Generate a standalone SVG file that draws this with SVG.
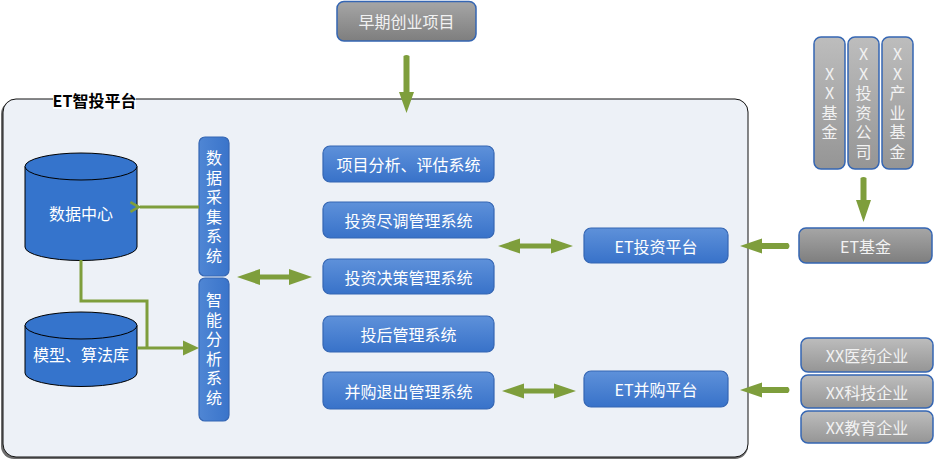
<svg xmlns="http://www.w3.org/2000/svg" width="935" height="459" viewBox="0 0 935 459">
<defs>
<linearGradient id="gBlue" x1="0" y1="0" x2="0" y2="1">
<stop offset="0" stop-color="#5E91DA"/>
<stop offset="1" stop-color="#3872C9"/>
</linearGradient>
<linearGradient id="gBlueV" x1="0" y1="0" x2="1" y2="0">
<stop offset="0" stop-color="#4F86D4"/>
<stop offset="1" stop-color="#3A74CA"/>
</linearGradient>
<linearGradient id="gGray" x1="0" y1="0" x2="0" y2="1">
<stop offset="0" stop-color="#BDBDBD"/>
<stop offset="1" stop-color="#959595"/>
</linearGradient>
<linearGradient id="gGrayDark" x1="0" y1="0" x2="0" y2="1">
<stop offset="0" stop-color="#A6A6A6"/>
<stop offset="1" stop-color="#7E7E7E"/>
</linearGradient>
<marker id="open" viewBox="0 0 10 10" refX="1" refY="5" markerWidth="4" markerHeight="4" orient="auto-start-reverse" markerUnits="strokeWidth">
<path d="M9,1 L2,5 L9,9" fill="none" stroke="#7E9E3C" stroke-width="2.2"/>
</marker>
</defs>
<style>
.box{fill:url(#gBlue);stroke:#3566B3;stroke-width:1.2}
.vbox{fill:url(#gBlueV);stroke:#3566B3;stroke-width:1.2}
.gbox{fill:url(#gGray);stroke:#3566B3;stroke-width:1.5}
.gdark{fill:url(#gGrayDark);stroke:#3566B3;stroke-width:1.5}
.cyl{fill:#3574CC;stroke:#000;stroke-width:1}
.t{font-family:"Noto Sans CJK SC","Microsoft YaHei",sans-serif;font-size:16px;fill:#FFFFFF;text-anchor:middle;dominant-baseline:central}
.tg{font-family:"Noto Sans CJK SC","Microsoft YaHei",sans-serif;font-size:16px;fill:#F2F2F2;text-anchor:middle;dominant-baseline:central}
.v{writing-mode:vertical-rl;text-orientation:upright;letter-spacing:3.5px}
.arr{fill:#7E9E3C}
.ln{fill:none;stroke:#7E9E3C;stroke-width:3}
</style>

<g id="container">
<rect x="1" y="101" width="747" height="358" rx="13" fill="#6E6E6E"/>
<rect x="3" y="99" width="745" height="358" rx="13" fill="#EDF1F7" stroke="#111" stroke-width="1"/>
<rect x="53" y="91" width="83" height="18" fill="#FFFFFF"/>
<text x="94.5" y="100" font-family="'Noto Sans CJK SC','Microsoft YaHei',sans-serif" font-size="16" font-weight="bold" fill="#000" text-anchor="middle" dominant-baseline="central">ET智投平台</text>
</g>

<g id="n-zaoqi">
<rect class="gdark" x="337" y="1.5" width="139" height="39.5" rx="7"/>
<text class="tg" x="406.5" y="21">早期创业项目</text>
</g>

<g id="n-datacenter">
<path class="cyl" d="M25,166.5 V247 A56,13.5 0 0 0 137,247 V166.5"/>
<ellipse class="cyl" cx="81" cy="166.5" rx="56" ry="13.5"/>
<text class="t" x="81" y="213">数据中心</text>
</g>

<g id="n-model">
<path class="cyl" d="M25,325.5 V373 A56,13.5 0 0 0 137,373 V325.5"/>
<ellipse class="cyl" cx="81" cy="325.5" rx="56" ry="13.5"/>
<text class="t" x="81" y="354">模型、算法库</text>
</g>

<g id="n-caiji">
<rect class="vbox" x="199" y="137" width="30" height="139" rx="6"/>
<text class="t v" x="214" y="208.5">数据采集系统</text>
</g>

<g id="n-fenxi">
<rect class="vbox" x="199" y="278" width="30" height="143" rx="6"/>
<text class="t v" x="214" y="350.5">智能分析系统</text>
</g>

<g id="n-xiangmu">
<rect class="box" x="323" y="146" width="171" height="36" rx="7"/>
<text class="t" x="408.5" y="164">项目分析、评估系统</text>
</g>
<g id="n-jindiao">
<rect class="box" x="323" y="202" width="171" height="36" rx="7"/>
<text class="t" x="408.5" y="220">投资尽调管理系统</text>
</g>
<g id="n-juece">
<rect class="box" x="323" y="259" width="171" height="35" rx="7"/>
<text class="t" x="408.5" y="276.5">投资决策管理系统</text>
</g>
<g id="n-touhou">
<rect class="box" x="323" y="316" width="171" height="36" rx="7"/>
<text class="t" x="408.5" y="334">投后管理系统</text>
</g>
<g id="n-binggou">
<rect class="box" x="323" y="372" width="171" height="37" rx="7"/>
<text class="t" x="408.5" y="390.5">并购退出管理系统</text>
</g>

<g id="n-etinvest">
<rect class="box" x="584" y="228" width="144" height="35" rx="7"/>
<text class="t" x="656" y="245.5">ET投资平台</text>
</g>
<g id="n-etma">
<rect class="box" x="584" y="371" width="144" height="36" rx="7"/>
<text class="t" x="656" y="389">ET并购平台</text>
</g>

<g id="n-etfund">
<rect class="gdark" x="799" y="228" width="133" height="35" rx="7"/>
<text class="tg" x="865.5" y="245.5">ET基金</text>
</g>

<g id="n-xxfund">
<rect class="gbox" x="814" y="37" width="31" height="132" rx="7"/>
<text class="tg v" x="829.5" y="104.5">XX基金</text>
</g>
<g id="n-xxinvest">
<rect class="gbox" x="848" y="37" width="31" height="132" rx="7"/>
<text class="tg v" x="863.5" y="104.5">XX投资公司</text>
</g>
<g id="n-xxindustry">
<rect class="gbox" x="882" y="37" width="31" height="132" rx="7"/>
<text class="tg v" x="897.5" y="104.5">XX产业基金</text>
</g>

<g id="n-yiyao">
<rect class="gbox" x="801" y="338" width="132" height="34" rx="7"/>
<text class="tg" x="867" y="355">XX医药企业</text>
</g>
<g id="n-keji">
<rect class="gbox" x="801" y="375" width="132" height="33" rx="7"/>
<text class="tg" x="867" y="391.5">XX科技企业</text>
</g>
<g id="n-jiaoyu">
<rect class="gbox" x="801" y="411" width="132" height="32" rx="7"/>
<text class="tg" x="867" y="427">XX教育企业</text>
</g>

<g id="connectors">
<path class="arr" d="M403.5,56 Q406.5,54 409.5,56 V92 H414 L406.5,113 L399,92 H403.5 Z"/>
<path class="arr" d="M860.5,178 Q863.5,176 866.5,178 V200 H871 L863.5,222 L856,200 H860.5 Z"/>
<path class="ln" d="M199,207 H140" marker-end="url(#open)"/>
<path class="ln" d="M81,260 V301 H147 V348"/>
<path class="ln" d="M137,348 H184"/>
<path class="arr" d="M183,340.5 L199,348 L183,355.5 Z"/>
<path class="arr" d="M237,277 L260,269 V274.5 H289 V269 L312,277 L289,285 V279.5 H260 V285 Z"/>
<path class="arr" d="M498,246 L520,238.5 V243.5 H551 V238.5 L573,246 L551,253.5 V248.5 H520 V253.5 Z"/>
<path class="arr" d="M502,391 L524,383.5 V388.5 H554 V383.5 L576,391 L554,398.5 V393.5 H524 V398.5 Z"/>
<path class="arr" d="M740,246 L762,238.5 V243 H788 Q791,246 788,249 H762 V253.5 Z"/>
<path class="arr" d="M740,390 L762,382.5 V387 H788 Q791,390 788,393 H762 V397.5 Z"/>
</g>
</svg>
